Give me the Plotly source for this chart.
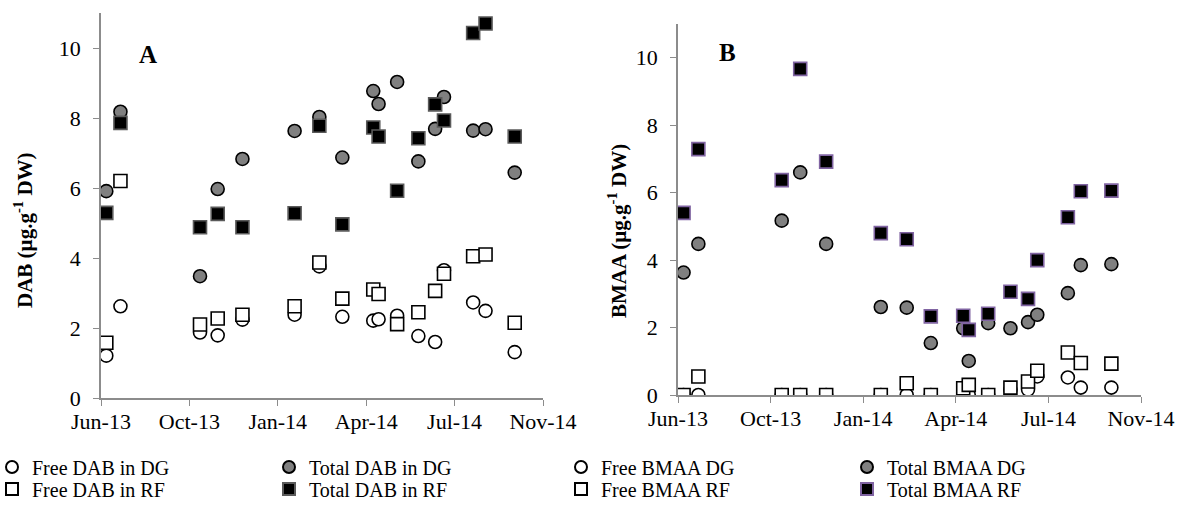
import plotly.graph_objects as go
import pandas as pd

# ---- data ----
sample_dates = ["2013-06-30", "2013-07-16", "2013-10-14", "2013-11-03", "2013-12-01",
                "2014-01-29", "2014-02-26", "2014-03-24", "2014-04-28", "2014-05-04",
                "2014-05-25", "2014-06-18", "2014-07-07", "2014-07-17", "2014-08-19",
                "2014-09-02", "2014-10-05"]

free_dab_dg = [1.21, 2.62, 1.87, 1.79, 2.24, 2.38, 3.76, 2.32, 2.21, 2.25, 2.35, 1.77, 1.60, 3.65, 2.73, 2.49, 1.31]
total_dab_dg = [5.91, 8.18, 3.48, 5.97, 6.83, 7.63, 8.03, 6.87, 8.77, 8.40, 9.03, 6.76, 7.69, 8.60, 7.64, 7.68, 6.44]
free_dab_rf = [1.58, 6.20, 2.10, 2.27, 2.38, 2.62, 3.87, 2.84, 3.10, 2.97, 2.11, 2.45, 3.06, 3.55, 4.05, 4.10, 2.15]
total_dab_rf = [5.29, 7.86, 4.88, 5.26, 4.88, 5.28, 7.78, 4.96, 7.73, 7.47, 5.92, 7.42, 8.39, 7.93, 10.43, 10.70, 7.47]

free_bmaa_dg = [0, 0, 0, 0, 0, 0, 0, 0, 0, 0, 0, 0.16, 0.16, 0.55, 0.52, 0.22, 0.22]
total_bmaa_dg = [3.63, 4.48, 5.17, 6.60, 4.48, 2.61, 2.59, 1.54, 1.98, 1.01, 2.13, 1.98, 2.16, 2.38, 3.02, 3.85, 3.88]
free_bmaa_rf = [0, 0.55, 0, 0, 0, 0, 0.35, 0, 0.20, 0.30, 0, 0.22, 0.40, 0.72, 1.26, 0.95, 0.93]
total_bmaa_rf = [5.40, 7.29, 6.37, 9.67, 6.92, 4.80, 4.62, 2.33, 2.35, 1.93, 2.41, 3.06, 2.85, 4.00, 5.27, 6.04, 6.06]

tick_labels = ["Jun-13", "Oct-13", "Jan-14", "Apr-14", "Jul-14", "Nov-14"]
y_ticks = [0, 2, 4, 6, 8, 10]

# ---- axis geometry (Excel date axis, 100-day major unit) ----
axis_start = pd.Timestamp("2013-06-24")
tick_dates = [(axis_start + pd.Timedelta(days=100 * i)).strftime("%Y-%m-%d") for i in range(6)]
x_range = [tick_dates[0], tick_dates[-1]]

W, H = 1178, 514
FONT = "Liberation Serif, Times New Roman, serif"

px = lambda v: v / W          # window pixel -> paper fraction
py = lambda v: 1 - v / H

fig = go.Figure()

def add(x, y, name, xa, ya, legend, symbol, fill, line_color, line_w=1.6):
    fig.add_trace(go.Scatter(
        x=x, y=y, name=name, mode="markers", xaxis=xa, yaxis=ya, legend=legend,
        marker=dict(symbol=symbol, size=13, color=fill,
                    line=dict(color=line_color, width=line_w)),
    ))

# Panel A
add(sample_dates, free_dab_dg, "Free DAB in DG", "x", "y", "legend", "circle", "white", "black")
add(sample_dates, total_dab_dg, "Total DAB in DG", "x", "y", "legend2", "circle", "#808080", "black")
add(sample_dates, free_dab_rf, "Free DAB in RF", "x", "y", "legend3", "square", "white", "black")
add(sample_dates, total_dab_rf, "Total DAB in RF", "x", "y", "legend4", "square", "black", "#5a5a5a")
# Panel B
add(sample_dates, free_bmaa_dg, "Free BMAA DG", "x2", "y2", "legend5", "circle", "white", "black")
add(sample_dates, total_bmaa_dg, "Total BMAA DG", "x2", "y2", "legend6", "circle", "#808080", "black")
add(sample_dates, free_bmaa_rf, "Free BMAA RF", "x2", "y2", "legend7", "square", "white", "black")
add(sample_dates, total_bmaa_rf, "Total BMAA RF", "x2", "y2", "legend8", "square", "black", "#8064A2")

axis_common = dict(showgrid=False, zeroline=False, showline=True, linecolor="#8c8c8c",
                   linewidth=1.6, ticks="outside", ticklen=6, tickwidth=1.4, tickcolor="#8c8c8c",
                   tickfont=dict(family=FONT, size=22, color="black"), automargin=False,
                   ticklabeloverflow="allow")

xaxis_common = dict(axis_common, type="date", range=x_range, tickmode="array",
                    tickvals=tick_dates, ticktext=tick_labels, ticklabelstandoff=-3)
yaxis_common = dict(axis_common, range=[0, 11], tickmode="array", tickvals=y_ticks,
                    ticktext=[str(v) for v in y_ticks], ticklabelstandoff=8)

fig.update_layout(
    width=W, height=H, margin=dict(l=0, r=0, t=0, b=0, pad=0, autoexpand=False),
    paper_bgcolor="white", plot_bgcolor="white",
    font=dict(family=FONT, color="black"),
    xaxis=dict(xaxis_common, domain=[px(101), px(543)], anchor="y"),
    yaxis=dict(yaxis_common, domain=[py(398), py(13)], anchor="x"),
    xaxis2=dict(xaxis_common, domain=[px(678), px(1141)], anchor="y2"),
    yaxis2=dict(yaxis_common, domain=[py(395), py(24)], anchor="x2"),
    showlegend=True,
)

leg_common = dict(orientation="v", xanchor="left", yanchor="middle", bgcolor="rgba(0,0,0,0)",
                  font=dict(family=FONT, size=20, color="black"), itemsizing="constant",
                  borderwidth=0)
row1, row2 = py(467), py(489)
TXT = 41  # offset from legend left edge to entry text
fig.update_layout(
    legend=dict(leg_common, x=px(-8), y=row1),
    legend3=dict(leg_common, x=px(-8), y=row2),
    legend2=dict(leg_common, x=px(310 - TXT), y=row1),
    legend4=dict(leg_common, x=px(310 - TXT), y=row2),
    legend5=dict(leg_common, x=px(602 - TXT), y=row1),
    legend7=dict(leg_common, x=px(602 - TXT), y=row2),
    legend6=dict(leg_common, x=px(888 - TXT), y=row1),
    legend8=dict(leg_common, x=px(888 - TXT), y=row2),
)

# Panel letters
fig.add_annotation(text="<b>A</b>", x=px(147.5), y=py(55), xref="paper", yref="paper",
                   showarrow=False, font=dict(family=FONT, size=25, color="black"),
                   xanchor="center", yanchor="middle")
fig.add_annotation(text="<b>B</b>", x=px(727), y=py(53), xref="paper", yref="paper",
                   showarrow=False, font=dict(family=FONT, size=25, color="black"),
                   xanchor="center", yanchor="middle")

# Y axis titles
fig.add_annotation(text="<b>DAB (µg.g<sup>-1</sup> DW)</b>", x=px(24), y=py(230),
                   xref="paper", yref="paper", showarrow=False, textangle=-90,
                   font=dict(family=FONT, size=21, color="black"),
                   xanchor="center", yanchor="middle")
fig.add_annotation(text="<b>BMAA (µg.g<sup>-1</sup> DW)</b>", x=px(618), y=py(231),
                   xref="paper", yref="paper", showarrow=False, textangle=-90,
                   font=dict(family=FONT, size=21, color="black"),
                   xanchor="center", yanchor="middle")

# remove the default 8px page margin so the figure fills the window exactly
fig.write_html("out.html",
               config={"displayModeBar": False},
               post_script="document.body.style.margin='0';"
                           "document.documentElement.style.overflow='hidden';")
